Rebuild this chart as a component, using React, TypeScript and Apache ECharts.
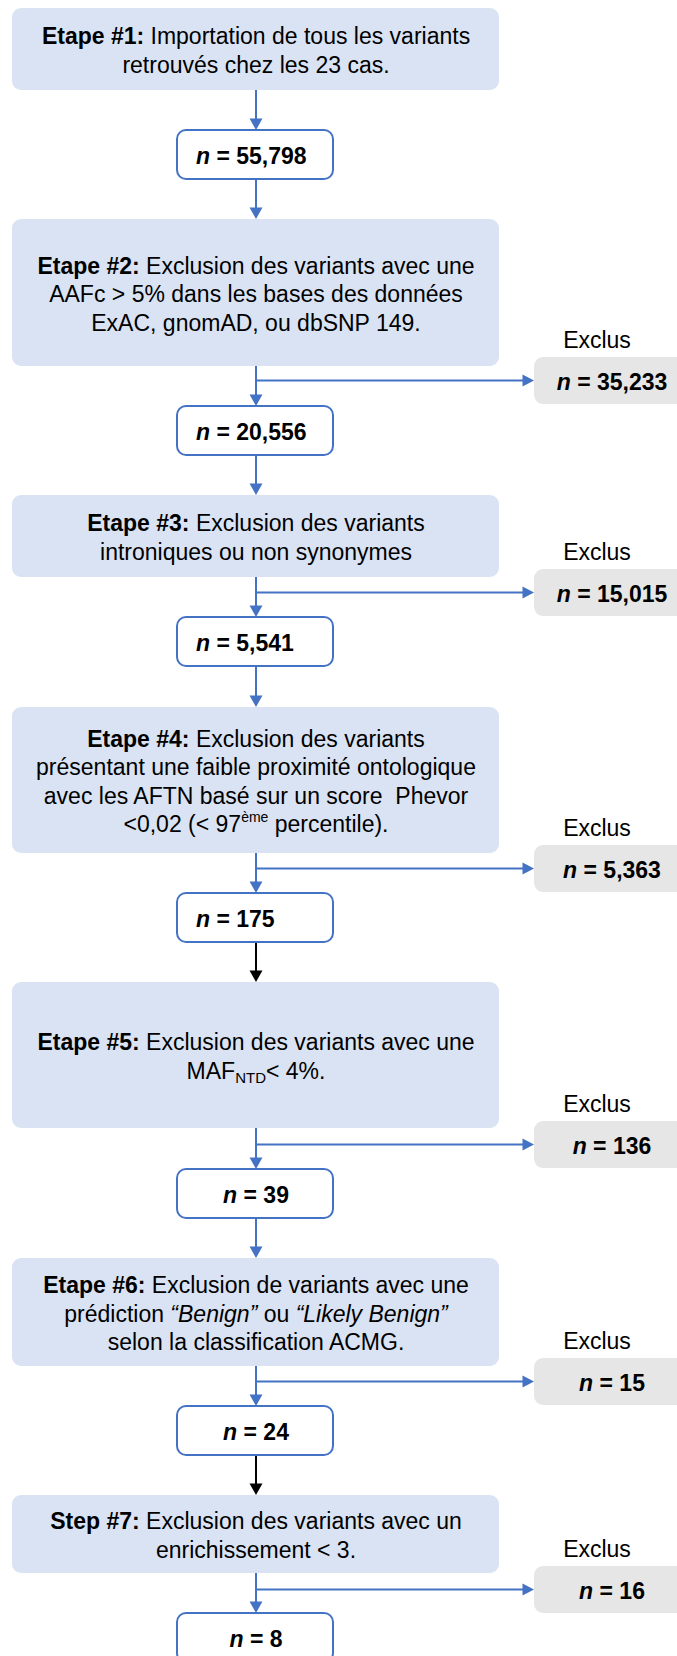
import React, { useEffect, useRef } from "react";
import * as echarts from "echarts";

// ---------- data ----------
const stepTitles = ["Etape #1:", "Etape #2:", "Etape #3:", "Etape #4:", "Etape #5:", "Etape #6:", "Step #7:"];
const stepLines: string[][] = [
  [" Importation de tous les variants", "retrouvés chez les 23 cas."],
  [" Exclusion des variants avec une", "AAFc > 5% dans les bases des données", "ExAC, gnomAD, ou dbSNP 149."],
  [" Exclusion des variants", "introniques ou non synonymes"],
  [
    " Exclusion des variants",
    "présentant une faible proximité ontologique",
    "avec les AFTN basé sur un score  Phevor",
    "<0,02 (< 97{sup|ème} percentile).",
  ],
  [" Exclusion des variants avec une", "MAF{sub|NTD}< 4%."],
  [
    " Exclusion de variants avec une",
    "prédiction {i|“Benign”} ou {i|“Likely Benign”}",
    "selon la classification ACMG.",
  ],
  [" Exclusion des variants avec un", "enrichissement < 3."],
];
const keptCounts = [55798, 20556, 5541, 175, 39, 24, 8];
const excludedCounts = [35233, 15015, 5363, 136, 15, 16];
const excludedLabel = "Exclus";

// ---------- layout ----------
const W = 677;
const H = 1656;
const FONT = '"Liberation Sans", Arial, Helvetica, sans-serif';
const CX = 256;
const MAIN_X = 12;
const MAIN_W = 487;
const mainTop = [8, 219, 495, 707, 982, 1258, 1495];
const mainBottom = [90, 366, 577, 853, 1128, 1366, 1573];
const N_X = 177;
const N_W = 156;
const N_H = 49;
const nTop = [130, 406, 617, 893, 1169, 1406, 1613];
const nAlign = ["left", "left", "left", "left", "center", "center", "center"];
const EX_X = 534;
const EX_W = 160;
const EX_H = 47;
const EX_CX = 612;
const exclTop = [357, 569, 845, 1121, 1358, 1566];
const connectorColors = ["#4472C4", "#4472C4", "#4472C4", "#000000", "#4472C4", "#000000"];

const BLUE = "#4472C4";
const MAIN_FILL = "#DAE3F3";
const EX_FILL = "#E7E6E6";
const FS = 23;
const LH = 28.5;

function fmt(v: number) {
  return v.toLocaleString("en-US");
}

function vArrow(x: number, y1: number, y2: number, color: string) {
  return [
    { type: "line", shape: { x1: x, y1, x2: x, y2: y2 - 9 }, style: { stroke: color, lineWidth: 2 } },
    {
      type: "polygon",
      shape: { points: [[x - 6.5, y2 - 11.5], [x + 6.5, y2 - 11.5], [x, y2]] },
      style: { fill: color },
    },
  ];
}

function hArrow(x1: number, x2: number, y: number, color: string) {
  return [
    { type: "line", shape: { x1, y1: y, x2: x2 - 9, y2: y }, style: { stroke: color, lineWidth: 2 } },
    {
      type: "polygon",
      shape: { points: [[x2 - 11.5, y - 6], [x2 - 11.5, y + 6], [x2, y]] },
      style: { fill: color },
    },
  ];
}

function textEl(x: number, y: number, text: string, align: string, rich: any, extra: any = {}) {
  return {
    type: "text",
    x,
    y,
    style: {
      text,
      align,
      textAlign: align,
      verticalAlign: "middle",
      textVerticalAlign: "middle",
      fontSize: FS,
      fontFamily: FONT,
      lineHeight: LH,
      fill: "#000",
      rich,
      ...extra,
    },
  };
}

const richMain = {
  b: { fontSize: FS, fontFamily: FONT, fontWeight: "bold", lineHeight: LH, fill: "#000" },
  i: { fontSize: FS, fontFamily: FONT, fontStyle: "italic", lineHeight: LH, fill: "#000" },
  sup: { fontSize: 14, fontFamily: FONT, lineHeight: 16.5, verticalAlign: "top", fill: "#000" },
  sub: { fontSize: 15, fontFamily: FONT, lineHeight: 9.5, verticalAlign: "bottom", fill: "#000" },
};
const richN = {
  ni: { fontSize: FS, fontFamily: FONT, fontWeight: "bold", fontStyle: "italic", fill: "#000" },
  nb: { fontSize: FS, fontFamily: FONT, fontWeight: "bold", fill: "#000" },
};

export default function App() {
  const ref = useRef<HTMLDivElement>(null);
  useEffect(() => {
    if (!ref.current) return;
    const chart = echarts.init(ref.current, null, { renderer: "svg", width: W, height: H });
    const els: any[] = [];

    // connectors first
    stepLines.forEach((_, i) => {
      els.push(...vArrow(CX, mainBottom[i], nTop[i], BLUE));
      if (i < stepLines.length - 1) {
        els.push(...vArrow(CX, nTop[i] + N_H, mainTop[i + 1], connectorColors[i]));
      }
    });
    excludedCounts.forEach((_, k) => {
      const y = exclTop[k] + EX_H / 2;
      els.push(...hArrow(CX, EX_X, y, BLUE));
    });

    // main boxes
    stepLines.forEach((lines, i) => {
      els.push({
        type: "rect",
        shape: { x: MAIN_X, y: mainTop[i], width: MAIN_W, height: mainBottom[i] - mainTop[i], r: 9 },
        style: { fill: MAIN_FILL },
      });
      const content = lines.map((l, k) => (k === 0 ? `{b|${stepTitles[i]}}${l}` : l)).join("\n");
      els.push(textEl(CX, (mainTop[i] + mainBottom[i]) / 2 + 1.5, content, "center", richMain));
    });

    // n boxes
    keptCounts.forEach((v, i) => {
      els.push({
        type: "rect",
        shape: { x: N_X, y: nTop[i], width: N_W, height: N_H, r: 9 },
        style: { fill: "#ffffff", stroke: BLUE, lineWidth: 2 },
      });
      const left = nAlign[i] === "left";
      els.push(
        textEl(left ? 196 : CX, nTop[i] + N_H / 2 + 1, `{ni|n}{nb| = ${fmt(v)}}`, left ? "left" : "center", richN)
      );
    });

    // excluded boxes
    excludedCounts.forEach((v, k) => {
      els.push({
        type: "rect",
        shape: { x: EX_X, y: exclTop[k], width: EX_W, height: EX_H, r: 9 },
        style: { fill: EX_FILL },
      });
      els.push(textEl(597, exclTop[k] - 17, excludedLabel, "center", {}));
      els.push(textEl(EX_CX, exclTop[k] + EX_H / 2 + 1, `{ni|n}{nb| = ${fmt(v)}}`, "center", richN));
    });

    chart.setOption({ animation: false, graphic: { elements: els } });
    return () => chart.dispose();
  }, []);

  return <div ref={ref} style={{ position: "absolute", left: 0, top: 0, width: W, height: H, background: "#fff" }} />;
}
